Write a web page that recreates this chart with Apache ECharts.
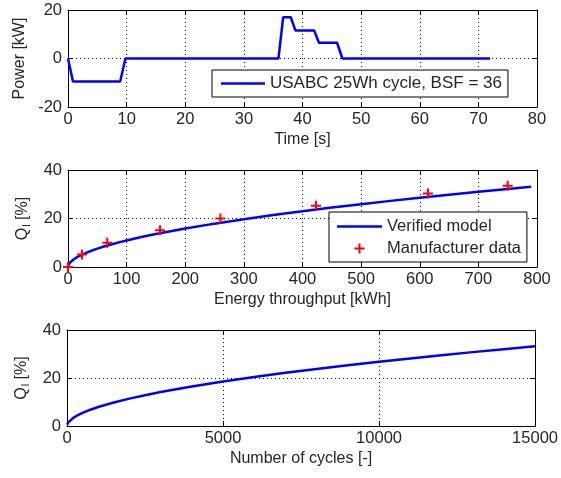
<!DOCTYPE html>
<html>
<head>
<meta charset="utf-8">
<script src="https://cdn.jsdelivr.net/npm/echarts@6/dist/echarts.min.js"></script>
<style>html,body{margin:0;padding:0;background:#fff;}#c{width:561px;height:478px;}</style>
</head>
<body>
<div id="c"></div>
<script>
// ---- Data ----
const powerTime = [0, 0.85, 8.9, 9.8, 35.9, 36.7, 38.0, 38.8, 42.0, 42.8, 45.9, 46.8, 72];
const powerKW   = [0, -9.5, -9.5, 0, 0, 17, 17, 11.5, 11.5, 6.5, 6.5, 0, 0];

const modelEnergy = [0, 1, 2, 4, 7, 10, 15, 20, 30, 40, 50, 60, 75, 90, 100, 125, 150, 175, 200, 250, 300, 350, 400, 450, 500, 550, 600, 650, 700, 750, 790];
const modelQ      = [0, 0.93, 1.35, 1.96, 2.64, 3.2, 3.97, 4.63, 5.75, 6.71, 7.56, 8.33, 9.39, 10.35, 10.96, 12.34, 13.61, 14.78, 15.87, 17.88, 19.72, 21.41, 23.0, 24.49, 25.91, 27.27, 28.57, 29.82, 31.03, 32.19, 33.1];

const mfrEnergy = [0, 24, 67, 157, 260, 423, 614, 750];
const mfrQ      = [0, 5.2, 10, 15.2, 20, 25.3, 30.3, 33.5];

const cycles  = [0, 20, 50, 100, 200, 300, 500, 750, 1000, 1500, 2000, 2500, 3000, 4000, 5000, 6000, 7000, 8000, 9000, 10000, 11000, 12000, 13000, 14000, 15000];
const cyclesQ = [0.6, 1.0, 1.61, 2.33, 3.37, 4.18, 5.47, 6.79, 7.9, 9.8, 11.41, 12.84, 14.15, 16.48, 18.55, 20.43, 22.17, 23.79, 25.33, 26.78, 28.17, 29.5, 30.78, 32.01, 33.2];

const xTicks = [{min:0,max:80,interval:10},{min:0,max:800,interval:100},{min:0,max:15000,interval:5000}];
const yTicks = [{min:-20,max:20,interval:20},{min:0,max:40,interval:20},{min:0,max:40,interval:20}];
const xNames = ['Time [s]', 'Energy throughput [kWh]', 'Number of cycles [-]'];
const yNames = ['Power [kW]', 'Q{s|l} [%]', 'Q{s|l} [%]'];
const legend1 = 'USABC 25Wh cycle, BSF = 36';
const legend2 = ['Verified model', 'Manufacturer data'];

// ---- Build ----
const FONT = 'Liberation Sans, Arial, Helvetica, sans-serif';
const TXT = '#262626';
const LW = 2.5;
const zip = (a, b) => a.map((v, i) => [v, b[i]]);
const plusPath = 'path://M4,0H6V4H10V6H6V10H4V6H0V4H4Z';

const grids = [
  {left: 68, top: 10, width: 469, height: 97},
  {left: 68, top: 170, width: 469, height: 97},
  {left: 67, top: 330, width: 470, height: 96}
];
const yNameGaps = [31, 37, 37];

const axisLine = {show: true, onZero: false, lineStyle: {color: '#000', width: 1}};
const tick = {show: true, inside: true, length: 5, lineStyle: {color: '#000'}};
const split = {show: true, lineStyle: {color: '#000', type: [1, 3], width: 1}};

const xAxis = [], yAxis = [];
grids.forEach((g, i) => {
  xAxis.push({
    type: 'value', gridIndex: i, position: 'bottom', ...xTicks[i],
    axisLine, axisTick: tick, splitLine: split,
    axisLabel: {show: true, margin: 4, fontSize: 16.5, fontFamily: FONT, color: TXT,
      showMinLabel: true, showMaxLabel: true, formatter: v => String(v)},
    name: xNames[i], nameLocation: 'middle', nameGap: 25,
    nameTextStyle: {fontSize: 16, fontFamily: FONT, color: TXT}
  });
  xAxis.push({
    type: 'value', gridIndex: i, position: 'top', ...xTicks[i],
    axisLine, axisTick: tick, splitLine: {show: false}, axisLabel: {show: false}
  });
  yAxis.push({
    type: 'value', gridIndex: i, position: 'left', ...yTicks[i],
    axisLine, axisTick: tick, splitLine: split,
    axisLabel: {show: true, margin: 6, fontSize: 16.5, fontFamily: FONT, color: TXT,
      showMinLabel: true, showMaxLabel: true, formatter: v => String(v)},
    name: yNames[i], nameLocation: 'middle', nameGap: yNameGaps[i],
    nameTextStyle: {fontSize: 16, fontFamily: FONT, color: TXT,
      rich: {s: {fontSize: 11, fontFamily: FONT, color: TXT, lineHeight: 16, padding: [6, 0, 0, 1], verticalAlign: 'top'}}}
  });
  yAxis.push({
    type: 'value', gridIndex: i, position: 'right', ...yTicks[i],
    axisLine, axisTick: tick, splitLine: {show: false}, axisLabel: {show: false}
  });
});

const option = {
  animation: false,
  backgroundColor: '#fff',
  grid: grids,
  xAxis, yAxis,
  legend: [
    {
      data: [{name: legend1, icon: 'path://M0,0H44V2.5H0Z'}], left: 212, top: 70,
      padding: [5, 6, 5, 9], itemWidth: 44, itemHeight: 14, itemGap: 5,
      backgroundColor: '#fff', borderColor: '#000', borderWidth: 1, borderRadius: 0,
      textStyle: {fontSize: 17, fontFamily: FONT, color: TXT}
    },
    {
      data: [{name: legend2[0], icon: 'path://M0,0H45V2.5H0Z'}, {name: legend2[1], icon: plusPath}],
      left: 329, top: 212, orient: 'vertical',
      padding: [6, 6, 5, 8], itemWidth: 45, itemHeight: 10, itemGap: 5,
      backgroundColor: '#fff', borderColor: '#000', borderWidth: 1, borderRadius: 0,
      textStyle: {fontSize: 16.5, fontFamily: FONT, color: TXT}
    }
  ],
  series: [
    {
      name: legend1, type: 'line', xAxisIndex: 0, yAxisIndex: 0,
      data: zip(powerTime, powerKW), symbol: 'none',
      lineStyle: {color: '#0000ff', width: LW}, itemStyle: {color: '#0000ff'}, z: 3
    },
    {
      name: legend2[0], type: 'line', xAxisIndex: 2, yAxisIndex: 2,
      data: zip(modelEnergy, modelQ), symbol: 'none',
      lineStyle: {color: '#0000ff', width: LW}, itemStyle: {color: '#0000ff'}, z: 3
    },
    {
      name: legend2[1], type: 'scatter', xAxisIndex: 2, yAxisIndex: 2,
      data: zip(mfrEnergy, mfrQ), symbol: plusPath, symbolSize: 10,
      itemStyle: {color: '#ff0000', opacity: 1}, z: 4
    },
    {
      name: 'cycles', type: 'line', xAxisIndex: 4, yAxisIndex: 4,
      data: zip(cycles, cyclesQ), symbol: 'none',
      lineStyle: {color: '#0000ff', width: LW}, itemStyle: {color: '#0000ff'}, z: 3
    }
  ]
};

const chart = echarts.init(document.getElementById('c'), null, {renderer: 'canvas'});
chart.setOption(option);
</script>
</body>
</html>
